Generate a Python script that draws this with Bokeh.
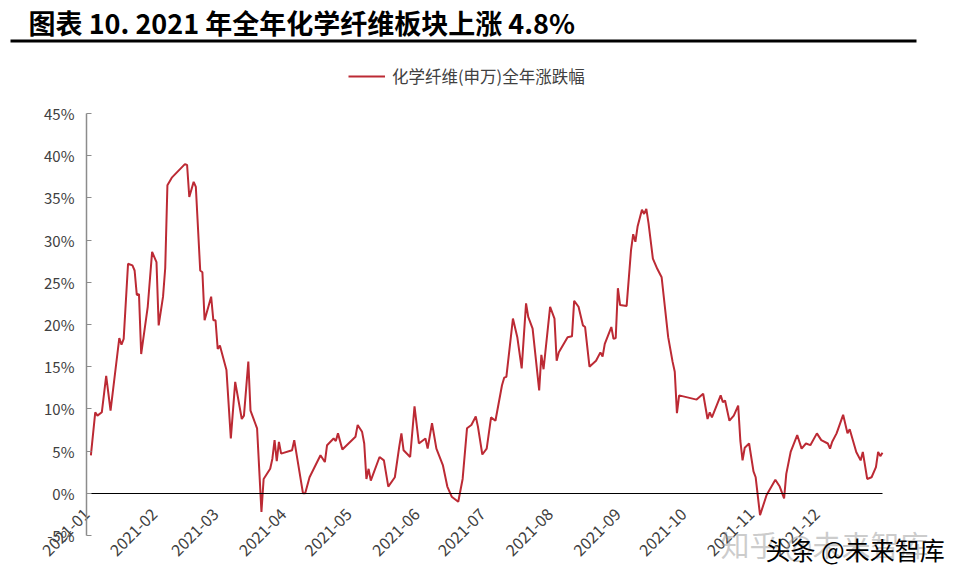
import pandas as pd
from math import pi
from bokeh.plotting import figure
from bokeh.models import (Range1d, FixedTicker, PrintfTickFormatter, Legend, LegendItem,
                          Label, BoxAnnotation)
from bokeh.core.properties import value
from bokeh.embed import file_html
from bokeh.resources import INLINE

title_text = "图表 10. 2021 年全年化学纤维板块上涨 4.8%"
series_name = "化学纤维(申万)全年涨跌幅"

dates = [
    "2021-01-03", "2021-01-05", "2021-01-06", "2021-01-08", "2021-01-10", "2021-01-12",
    "2021-01-16", "2021-01-17", "2021-01-18", "2021-01-20", "2021-01-22", "2021-01-23",
    "2021-01-24", "2021-01-25", "2021-01-26", "2021-01-29", "2021-01-31", "2021-02-02",
    "2021-02-03", "2021-02-05", "2021-02-06", "2021-02-07", "2021-02-09", "2021-02-15",
    "2021-02-16", "2021-02-17", "2021-02-19", "2021-02-20", "2021-02-22", "2021-02-23",
    "2021-02-24", "2021-02-27", "2021-02-28", "2021-03-01", "2021-03-02", "2021-03-03",
    "2021-03-06", "2021-03-08", "2021-03-10", "2021-03-13", "2021-03-14", "2021-03-16",
    "2021-03-17", "2021-03-20", "2021-03-22", "2021-03-23", "2021-03-26", "2021-03-27",
    "2021-03-28", "2021-03-29", "2021-03-30", "2021-03-31", "2021-04-05", "2021-04-06",
    "2021-04-10", "2021-04-11", "2021-04-13", "2021-04-18", "2021-04-20", "2021-04-21",
    "2021-04-24", "2021-04-25", "2021-04-26", "2021-04-28", "2021-05-04", "2021-05-05",
    "2021-05-07", "2021-05-08", "2021-05-09", "2021-05-10", "2021-05-11", "2021-05-15",
    "2021-05-17", "2021-05-19", "2021-05-22", "2021-05-24", "2021-05-25", "2021-05-26",
    "2021-05-29", "2021-05-31", "2021-06-02", "2021-06-05", "2021-06-06", "2021-06-08",
    "2021-06-10", "2021-06-13", "2021-06-15", "2021-06-17", "2021-06-20", "2021-06-22",
    "2021-06-24", "2021-06-26", "2021-06-28", "2021-06-29", "2021-07-01", "2021-07-03",
    "2021-07-05", "2021-07-07", "2021-07-10", "2021-07-11", "2021-07-12", "2021-07-15",
    "2021-07-17", "2021-07-19", "2021-07-21", "2021-07-22", "2021-07-24", "2021-07-27",
    "2021-07-28", "2021-07-29", "2021-08-01", "2021-08-03", "2021-08-04", "2021-08-05",
    "2021-08-09", "2021-08-11", "2021-08-12", "2021-08-14", "2021-08-16", "2021-08-17",
    "2021-08-19", "2021-08-22", "2021-08-24", "2021-08-25", "2021-08-26", "2021-08-29",
    "2021-08-30", "2021-08-31", "2021-09-01", "2021-09-02", "2021-09-05", "2021-09-07",
    "2021-09-08", "2021-09-09", "2021-09-10", "2021-09-12", "2021-09-13", "2021-09-14",
    "2021-09-15", "2021-09-17", "2021-09-19", "2021-09-21", "2021-09-24", "2021-09-26",
    "2021-09-27", "2021-09-28", "2021-09-29", "2021-10-07", "2021-10-10", "2021-10-12",
    "2021-10-13", "2021-10-14", "2021-10-18", "2021-10-19", "2021-10-20", "2021-10-22",
    "2021-10-24", "2021-10-26", "2021-10-27", "2021-10-28", "2021-10-29", "2021-10-31",
    "2021-11-02", "2021-11-03", "2021-11-05", "2021-11-08", "2021-11-12", "2021-11-14",
    "2021-11-16", "2021-11-17", "2021-11-19", "2021-11-22", "2021-11-24", "2021-11-26",
    "2021-11-28", "2021-12-01", "2021-12-03", "2021-12-06", "2021-12-07", "2021-12-08",
    "2021-12-10", "2021-12-13", "2021-12-15", "2021-12-16", "2021-12-19", "2021-12-21",
    "2021-12-22", "2021-12-24", "2021-12-26", "2021-12-28", "2021-12-29", "2021-12-30",
    "2021-12-31",
]

change_pct = [
    4.5, 9.6, 9.2, 9.6, 13.9, 9.8,
    18.4, 17.6, 18.3, 27.2, 27.0, 26.4,
    23.5, 23.6, 16.5, 22.1, 28.6, 27.4,
    19.9, 23.3, 26.7, 36.5, 37.4, 39.0,
    38.9, 35.1, 36.9, 36.3, 26.4, 26.2,
    20.5, 23.3, 20.5, 20.5, 17.1, 17.5,
    14.6, 6.5, 13.2, 8.8, 9.2, 15.6,
    9.8, 7.7, -2.2, 1.7, 2.9, 4.1,
    6.3, 3.8, 6.1, 4.7, 5.1, 6.3,
    0.0, 0.0, 1.9, 4.5, 3.7, 5.7,
    6.5, 6.2, 7.1, 5.2, 6.7, 8.1,
    7.3, 5.9, 1.7, 2.9, 1.5, 4.3,
    3.9, 0.8, 1.9, 5.5, 7.1, 5.1,
    4.3, 10.3, 5.9, 6.5, 5.3, 8.3,
    5.3, 3.3, 0.8, -0.4, -1.0, 1.7,
    7.7, 8.1, 9.1, 7.9, 4.6, 5.3,
    9.0, 8.6, 12.8, 13.7, 13.8, 20.7,
    18.5, 14.8, 22.5, 20.9, 19.5, 12.2,
    16.4, 14.7, 22.1, 20.7, 15.7, 16.7,
    18.5, 18.6, 22.8, 22.1, 19.9, 19.7,
    15.0, 15.7, 16.7, 16.2, 17.7, 19.7,
    18.3, 18.4, 24.3, 22.3, 22.2, 28.8,
    30.7, 29.8, 31.6, 33.6, 33.1, 33.7,
    32.0, 27.8, 26.6, 25.6, 18.5, 15.6,
    14.4, 9.5, 11.6, 11.1, 11.8, 8.8,
    9.6, 9.0, 11.6, 10.8, 11.0, 8.6,
    9.2, 10.4, 6.2, 3.9, 5.4, 5.9,
    2.6, 1.9, -2.6, -0.2, 1.6, 0.8,
    -0.6, 2.3, 4.9, 6.9, 5.3, 5.9,
    5.7, 7.1, 6.3, 5.9, 5.3, 6.1,
    7.1, 9.3, 7.1, 7.6, 4.9, 3.9,
    4.9, 1.7, 1.9, 3.1, 4.9, 4.4,
    4.8,
]

month_ticks = ["2021-01-01", "2021-02-01", "2021-03-01", "2021-04-01", "2021-05-01",
               "2021-06-01", "2021-07-01", "2021-08-01", "2021-09-01", "2021-10-01",
               "2021-11-01", "2021-12-01"]
month_labels = ["2021-01", "2021-02", "2021-03", "2021-04", "2021-05", "2021-06",
                "2021-07", "2021-08", "2021-09", "2021-10", "2021-11", "2021-12"]
y_ticks = [-5, 0, 5, 10, 15, 20, 25, 30, 35, 40, 45]
x_first, x_last = "2021-01-01", "2021-12-31"
y_min, y_max = -5, 45

RED = "#BC2A34"
GREY = "#404040"
AXIS_GREY = "#8C8C8C"
FONT = "Noto Sans CJK SC"

# ---- layout (pixels in a 955 x 583 canvas) ----
W, H = 955, 583
PLOT_L, PLOT_R, PLOT_T, PLOT_B = 86, 882, 113, 535

t0 = pd.Timestamp(x_first)
t1 = pd.Timestamp(x_last)
ms_per_px = (t1 - t0) / (PLOT_R - PLOT_L)
x_start = t0 - ms_per_px * PLOT_L
x_end = t1 + ms_per_px * (W - PLOT_R)
u_per_px = (y_max - y_min) / (PLOT_B - PLOT_T)
y_start = y_min - u_per_px * (H - PLOT_B)
y_end = y_max + u_per_px * PLOT_T

x = pd.to_datetime(dates)
tick_ms = [pd.Timestamp(d).value / 1e6 for d in month_ticks]
t0_ms = t0.value / 1e6
t1_ms = t1.value / 1e6

p = figure(width=W, height=H, x_axis_type="datetime",
           x_range=Range1d(x_start, x_end), y_range=Range1d(y_start, y_end),
           output_backend="svg", toolbar_location=None, title=None, min_border=0)
p.outline_line_color = None
p.border_fill_color = "white"
p.background_fill_color = "white"
p.xgrid.visible = False
p.ygrid.visible = False

r = p.line(x, change_pct, line_color=RED, line_width=2)

xa = p.xaxis[0]
xa.fixed_location = 0
xa.bounds = (t0_ms, t1_ms)
xa.ticker = FixedTicker(ticks=tick_ms)
xa.major_label_overrides = {t: l for t, l in zip(tick_ms, month_labels)}
xa.major_label_orientation = pi / 4
xa.axis_line_color = "black"
xa.axis_line_width = 1
xa.major_tick_in = 0
xa.major_tick_out = 0
xa.minor_tick_in = 0
xa.minor_tick_out = 0
xa.major_label_standoff = 18
xa.major_label_text_font = FONT
xa.major_label_text_font_size = "16px"
xa.major_label_text_color = GREY

ya = p.yaxis[0]
ya.fixed_location = t0_ms
ya.bounds = (y_min, y_max)
ya.ticker = FixedTicker(ticks=y_ticks)
ya.formatter = PrintfTickFormatter(format="%d%%")
ya.axis_line_color = AXIS_GREY
ya.axis_line_width = 1.5
ya.major_tick_in = 5
ya.major_tick_out = 0
ya.major_tick_line_color = AXIS_GREY
ya.minor_tick_in = 0
ya.minor_tick_out = 0
ya.major_label_standoff = 12
ya.major_label_text_font = FONT
ya.major_label_text_font_size = "15px"
ya.major_label_text_color = GREY

# title and rule
p.add_layout(Label(x=28, y=H - 22, x_units="screen", y_units="screen", text=title_text,
                   text_font=FONT, text_font_style="bold", text_font_size="27px",
                   text_color="black", text_baseline="middle", text_align="left"))
p.add_layout(BoxAnnotation(left=10, right=916, bottom=H - 42, top=H - 39,
                           left_units="screen", right_units="screen",
                           bottom_units="screen", top_units="screen",
                           fill_color="black", fill_alpha=1, line_color=None))

legend = Legend(items=[LegendItem(label=series_name, renderers=[r])],
                location=(348, H - 88), glyph_width=37, glyph_height=20, label_height=20,
                label_standoff=7, padding=0, margin=0, border_line_color=None,
                background_fill_alpha=0, label_text_font=FONT,
                label_text_font_size="16.5px", label_text_color=GREY)
p.add_layout(legend)

p.add_layout(Label(x=720, y=H - 543, x_units="screen", y_units="screen",
                   text="知乎 @未来智库", text_font=FONT, text_font_size="29px",
                   text_color="#999999", text_alpha=0.5, text_baseline="middle"))
p.add_layout(Label(x=765, y=H - 548, x_units="screen", y_units="screen",
                   text="头条 @未来智库", text_font=FONT, text_font_size="25px",
                   text_color="black", text_baseline="middle"))

open("out.html", "w").write(file_html(p, INLINE))
